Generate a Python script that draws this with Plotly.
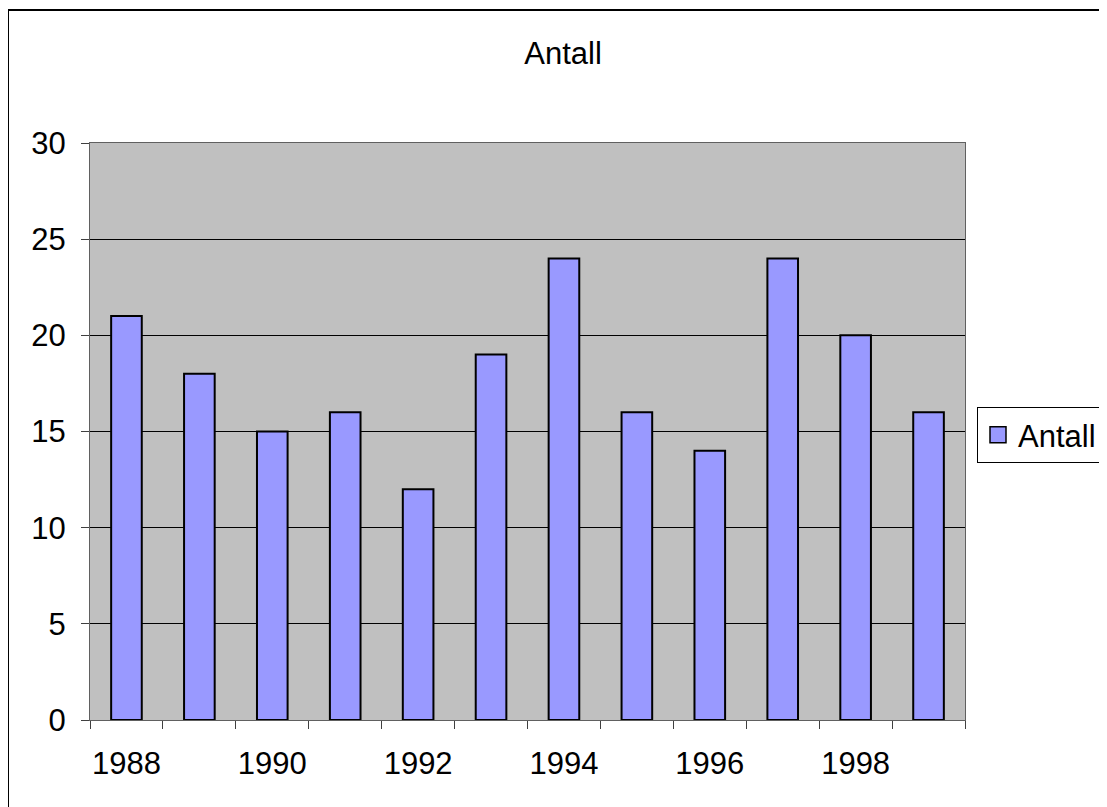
import plotly.graph_objects as go

years = [1988, 1989, 1990, 1991, 1992, 1993, 1994, 1995, 1996, 1997, 1998, 1999]
antall = [21, 18, 15, 16, 12, 19, 24, 16, 14, 24, 20, 16]
label_years = [1988, 1990, 1992, 1994, 1996, 1998]
boundaries = [y - 0.5 for y in years] + [years[-1] + 0.5]
y_ticks = [0, 5, 10, 15, 20, 25, 30]

# the page body has an 8px margin, so the figure is drawn 8px smaller
OFF = 8
W, H = 1107 - OFF, 807 - OFF
L, R, T, B = 90 - OFF, 142, 143 - OFF, 87
pw, ph = W - L - R, H - T - B

def px_x(p):
    return (p - OFF - L) / pw

def px_y(p):
    return (H - B - (p - OFF)) / ph

BAR_COLOR = "#9999FF"

fig = go.Figure()
fig.add_trace(go.Bar(
    x=years, y=antall, name="Antall", showlegend=False, legendgroup="a",
    marker=dict(color=BAR_COLOR, line=dict(color="black", width=2)),
))
# legend entry with a larger square swatch, like the original
fig.add_trace(go.Scatter(
    x=[None], y=[None], name="Antall", mode="markers", legendgroup="a",
    marker=dict(symbol="square", size=16, color=BAR_COLOR,
                line=dict(color="black", width=1.5)),
))

FS = 31
font = dict(family="Liberation Sans, Arial, sans-serif", size=FS, color="black")

fig.update_layout(
    width=W, height=H,
    margin=dict(l=L, r=R, t=T, b=B, autoexpand=False),
    paper_bgcolor="white",
    plot_bgcolor="#C0C0C0",
    font=font,
    bargap=0.58,
    title=dict(text="Antall", x=(563 - OFF) / W, xref="container", xanchor="center",
               y=1 - (53 - OFF) / H, yref="container", yanchor="middle",
               font=dict(size=FS)),
    showlegend=True,
    legend=dict(x=px_x(977), xanchor="left", y=px_y(435), yanchor="middle",
                bordercolor="black", borderwidth=1, bgcolor="white",
                itemsizing="trace", font=dict(size=FS), itemclick=False),
    xaxis=dict(
        range=[years[0] - 0.5, years[-1] + 0.5],
        tickvals=label_years, ticktext=[str(v) for v in label_years],
        ticks="outside", ticklen=0, ticklabelstandoff=16,
        showgrid=False, zeroline=False,
        showline=True, linecolor="#606060", linewidth=1, mirror=True,
        minor=dict(tickvals=boundaries, ticks="outside", ticklen=8,
                   tickcolor="#404040", showgrid=False),
    ),
    yaxis=dict(
        range=[0, 30], tickvals=y_ticks,
        ticks="outside", ticklen=8, tickcolor="#404040", ticklabelstandoff=9,
        showgrid=True, gridcolor="black", gridwidth=1, zeroline=False,
        showline=True, linecolor="#606060", linewidth=1, mirror=True,
    ),
    shapes=[dict(type="rect", xref="paper", yref="paper",
                 x0=px_x(8), x1=px_x(1130), y0=px_y(830), y1=px_y(10),
                 line=dict(color="black", width=2), fillcolor="rgba(0,0,0,0)",
                 layer="below")],
)

fig.write_html("out.html")
